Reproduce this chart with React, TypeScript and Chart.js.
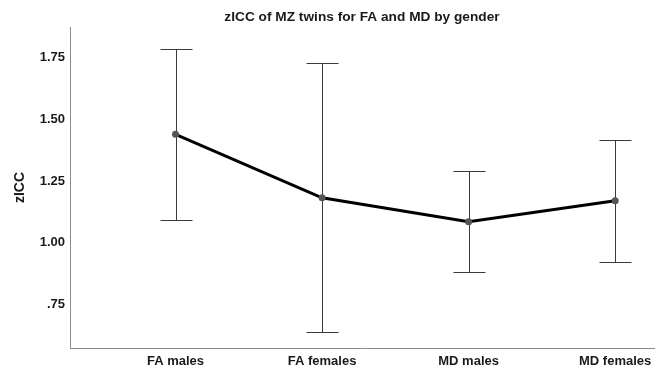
import React, { useEffect, useRef } from "react";
import { Chart, registerables } from "chart.js";

Chart.register(...registerables);

const categories = ["FA males", "FA females", "MD males", "MD females"];
const means = [1.439, 1.182, 1.085, 1.17];
const lower = [1.093, 0.639, 0.88, 0.922];
const upper = [1.785, 1.727, 1.29, 1.416];
const yTicks = [0.75, 1.0, 1.25, 1.5, 1.75];

const FONT = "'Liberation Sans', Arial, sans-serif";

const errorBars = {
  id: "errorBars",
  beforeDatasetsDraw(chart: any) {
    const ctx = chart.ctx;
    const xs = chart.scales.x;
    const ys = chart.scales.y;
    ctx.save();
    ctx.strokeStyle = "#3a3a3a";
    ctx.lineWidth = 1;
    categories.forEach((_, i) => {
      const x = Math.round(xs.getPixelForValue(i)) + 0.5;
      const yl = Math.round(ys.getPixelForValue(lower[i])) + 0.5;
      const yu = Math.round(ys.getPixelForValue(upper[i])) + 0.5;
      ctx.beginPath();
      ctx.moveTo(x, yl);
      ctx.lineTo(x, yu);
      ctx.moveTo(x - 16, yl);
      ctx.lineTo(x + 16, yl);
      ctx.moveTo(x - 16, yu);
      ctx.lineTo(x + 16, yu);
      ctx.stroke();
    });
    ctx.restore();
  },
};

export default function App() {
  const ref = useRef<HTMLCanvasElement>(null);
  useEffect(() => {
    document.body.style.margin = "0";
    const chart = new Chart(ref.current!, {
      type: "line",
      data: {
        datasets: [
          {
            data: means.map((m, i) => ({ x: i, y: m })),
            borderColor: "#000",
            borderWidth: 3,
            pointRadius: 3.5,
            pointBackgroundColor: "#555",
            pointBorderColor: "#555",
            pointBorderWidth: 0,
            tension: 0,
          },
        ],
      },
      options: {
        responsive: false,
        animation: false,
        layout: { padding: { left: 0, right: 1, top: 0, bottom: 0 } },
        plugins: {
          legend: { display: false },
          tooltip: { enabled: false },
          title: {
            display: true,
            fullSize: false,
            text: "zICC of MZ twins for FA and MD by gender",
            color: "#1a1a1a",
            font: { family: FONT, size: 13.7, weight: "bold" },
            padding: { top: 8.8, bottom: 1.8 },
          },
        },
        scales: {
          x: {
            type: "linear",
            min: -0.72,
            max: 3.265,
            afterFit: (s: any) => {
              s.height = 23;
            },
            afterBuildTicks: (s: any) => {
              s.ticks = categories.map((_, i) => ({ value: i }));
            },
            ticks: {
              autoSkip: false,
              maxRotation: 0,
              padding: 6,
              color: "#1a1a1a",
              font: { family: FONT, size: 13, weight: "bold" },
              callback: (v: any) => categories[Math.round(v)] ?? "",
            },
            grid: { display: true, color: "transparent", drawTicks: false },
            border: { display: true, color: "#8c8c8c", width: 1 },
          },
          y: {
            type: "linear",
            min: 0.573,
            max: 1.874,
            afterFit: (s: any) => {
              s.width = 70;
            },
            afterBuildTicks: (s: any) => {
              s.ticks = yTicks.map((v) => ({ value: v }));
            },
            ticks: {
              padding: 5,
              color: "#1a1a1a",
              font: { family: FONT, size: 13, weight: "bold" },
              callback: (v: any) => {
                const t = Number(v).toFixed(2);
                return t.startsWith("0") ? t.slice(1) : t;
              },
            },
            title: {
              display: true,
              text: "zICC",
              color: "#1a1a1a",
              font: { family: FONT, size: 14, weight: "bold" },
              padding: { top: 11.6, bottom: 0 },
            },
            grid: { display: true, color: "transparent", drawTicks: false },
            border: { display: true, color: "#8c8c8c", width: 1 },
          },
        },
      },
      plugins: [errorBars],
    });
    return () => chart.destroy();
  }, []);
  return <canvas ref={ref} width={658} height={371} style={{ display: "block" }} />;
}
